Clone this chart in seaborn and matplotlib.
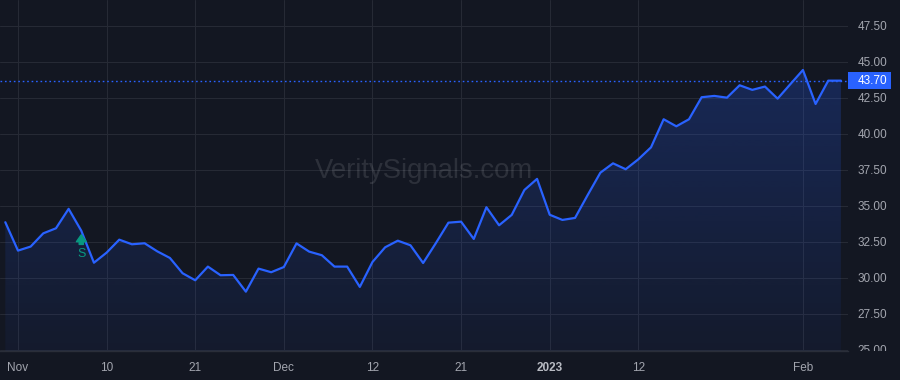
import numpy as np
import pandas as pd
import matplotlib
matplotlib.use('Agg')
import matplotlib.pyplot as plt
import seaborn as sns
from matplotlib.patches import Rectangle
from matplotlib.transforms import Bbox, TransformedBbox, blended_transform_factory
from matplotlib.colors import to_rgb

# ---- data ----
closes = [33.87, 31.90, 32.18, 33.10, 33.45, 34.80, 33.28, 31.06, 31.76, 32.66,
          32.34, 32.41, 31.85, 31.39, 30.33, 29.84, 30.79, 30.19, 30.21, 29.05,
          30.65, 30.40, 30.76, 32.40, 31.83, 31.58, 30.79, 30.79, 29.38, 31.11,
          32.13, 32.59, 32.27, 31.04, 32.41, 33.84, 33.91, 32.71, 34.91, 33.66,
          34.38, 36.11, 36.88, 34.39, 34.03, 34.17, 35.76, 37.31, 37.96, 37.55,
          38.24, 39.07, 41.02, 40.53, 41.02, 42.55, 42.64, 42.52, 43.38, 43.06,
          43.29, 42.45, 43.45, 44.44, 42.08, 43.70, 43.70]
x_tick_positions = [1, 8, 15, 22, 29, 36, 43, 50, 63]
x_tick_labels = ['Nov', '10', '21', 'Dec', '12', '21', '2023', '12', 'Feb']
y_ticks = [25.0, 27.5, 30.0, 32.5, 35.0, 37.5, 40.0, 42.5, 45.0, 47.5]
last_price = 43.70
signal_index = 6
signal_label = 'S'
watermark = 'VeritySignals.com'

# ---- style ----
BG = '#131722'
GRID = '#262a35'
TXT = '#a3a6af'
BLUE = '#2962ff'
TEAL = '#089981'

sns.set_style('dark', rc={'axes.facecolor': BG, 'figure.facecolor': BG,
                          'grid.color': GRID})
plt.rcParams['font.family'] = ['Liberation Sans', 'DejaVu Sans']

W, H = 900, 380
fig = plt.figure(figsize=(9, 3.8), dpi=100)
ax_bottom_px, ax_right_px = 351, 848
ax = fig.add_axes([0, (H - ax_bottom_px) / H, ax_right_px / W, ax_bottom_px / H])
ax.set_facecolor(BG)

df = pd.DataFrame({'idx': np.arange(len(closes)), 'close': closes})
xlim = (-0.42, 66.56)
ylim = (24.93, 49.3)

# gradient fill under the line
fill = ax.fill_between(df['idx'], df['close'], ylim[0], color='none', lw=0)
rgb = to_rgb(BLUE)
grad = np.zeros((256, 1, 4))
grad[:, 0, :3] = rgb
grad[:, 0, 3] = np.linspace(0.24, 0.05, 256)
im = ax.imshow(grad, extent=[xlim[0], xlim[1], ylim[0], max(closes)],
               aspect='auto', origin='upper', zorder=1)
im.set_clip_path(fill.get_paths()[0], transform=ax.transData)

sns.lineplot(data=df, x='idx', y='close', ax=ax, color=BLUE, linewidth=1.6,
             zorder=3)

# last price dotted line
ax.axhline(last_price, color=BLUE, lw=1.0, ls=(0, (1.2, 2.0)), zorder=2)

# signal marker
ax.annotate('', xy=(signal_index, 33.0), xytext=(signal_index, 32.33),
            arrowprops=dict(arrowstyle='simple,head_width=0.7,head_length=0.5,tail_width=0.3',
                            color=TEAL, shrinkA=0, shrinkB=0), zorder=4)
ax.text(signal_index, 31.65, signal_label, color=TEAL, fontsize=9,
        ha='center', va='center', zorder=4)

# watermark
ax.text(0.5, (ax_bottom_px - 171.5) / ax_bottom_px, watermark,
        transform=ax.transAxes, ha='center', va='center', fontsize=19.8,
        color='white', alpha=0.11, zorder=2)

ax.set_xlim(*xlim)
ax.set_ylim(*ylim)
ax.set_xticks(x_tick_positions)
ax.set_xticklabels(x_tick_labels)
ax.set_yticks(y_ticks)
ax.set_yticklabels([f'{v:.2f}' for v in y_ticks])
ax.yaxis.tick_right()
ax.set_xlabel('')
ax.set_ylabel('')
ax.grid(True, color=GRID, lw=0.75)
ax.tick_params(axis='both', length=0, colors=TXT, labelsize=8.5)
ax.tick_params(axis='y', pad=7)
ax.tick_params(axis='x', pad=8)
for lab in ax.get_xticklabels():
    if lab.get_text() == '2023':
        lab.set_fontweight('bold')
        lab.set_color('#b8bbc3')

for s in ['top', 'left', 'right']:
    ax.spines[s].set_visible(False)
ax.spines['bottom'].set_color('#2a2e39')
ax.spines['bottom'].set_linewidth(1.0)

# clip y tick labels to the plotting band
clip = TransformedBbox(Bbox([[0, (H - ax_bottom_px) / H], [1, 1]]), fig.transFigure)
for lab in ax.get_yticklabels():
    lab.set_clip_on(True)
    lab.set_clip_box(clip)

# last price label
trans = blended_transform_factory(fig.transFigure, ax.transData)
px_per_unit = ax_bottom_px / (ylim[1] - ylim[0])
box_h = 16.5 / px_per_unit
fig.add_artist(Rectangle((848 / W, last_price - box_h / 2), 43 / W, box_h,
                         transform=trans, fc=BLUE, ec='none', zorder=5))
fig.text(857.5 / W, 0, f'{last_price:.2f}', transform=trans, ha='left',
         va='center', color='white', fontsize=8.5, zorder=6)
fig.texts[-1].set_y(last_price)

fig.savefig('out.png', dpi=100, facecolor=BG)
